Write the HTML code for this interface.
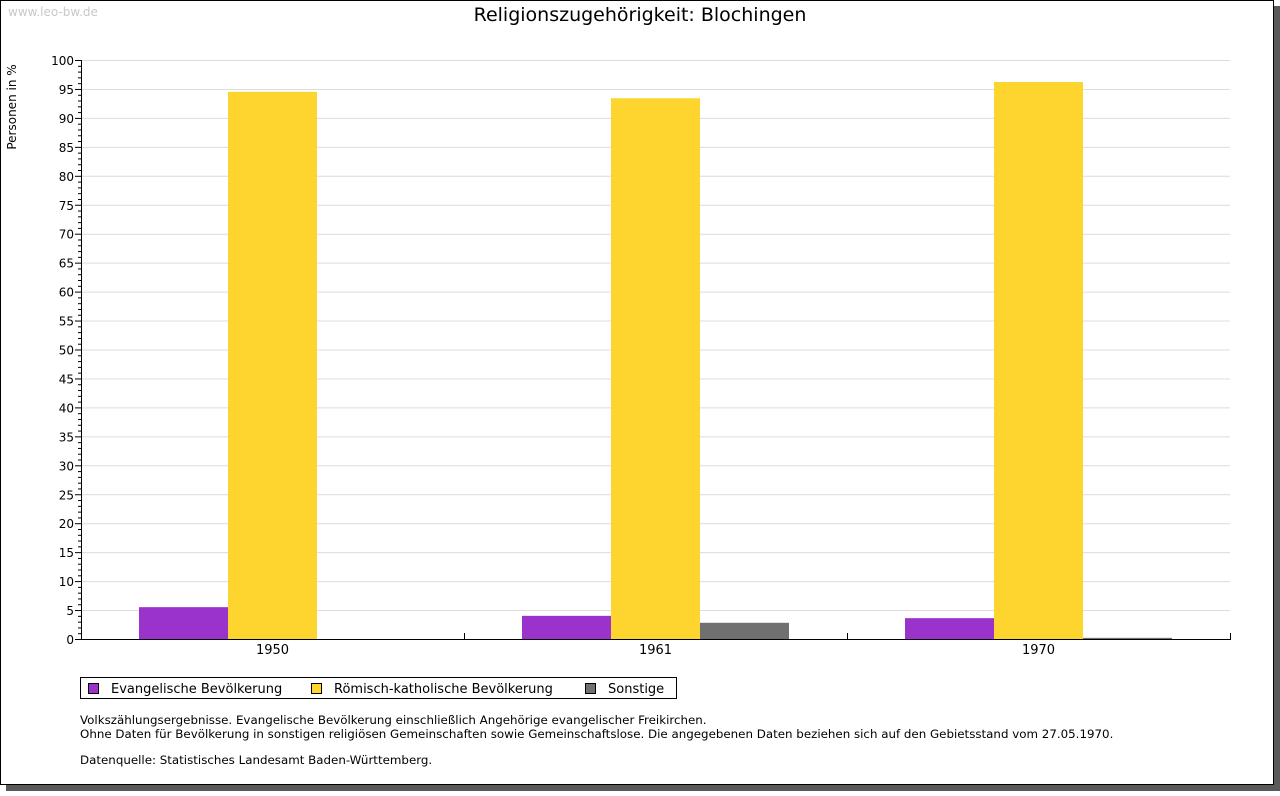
<!DOCTYPE html>
<html><head><meta charset="utf-8"><style>
body{margin:0;background:#fff;}
svg text{font-family:"DejaVu Sans","Liberation Sans",sans-serif;}
</style></head><body>
<svg id="c" width="1280" height="791" xmlns="http://www.w3.org/2000/svg">
<rect x="6" y="6" width="1274" height="785" fill="#5a5a5a"/>
<rect x="0.5" y="0.5" width="1273" height="784" fill="#fff" stroke="#000"/>
<text x="8" y="16" font-size="12" fill="#c8c8c8">www.leo-bw.de</text>
<text x="640" y="21" font-size="19" text-anchor="middle">Religionszugehörigkeit: Blochingen</text>
<text transform="translate(16,107) rotate(-90)" font-size="12" text-anchor="middle">Personen in %</text>
<g id="grid"></g><g id="bars"></g><g id="axes"></g>
<g>
<rect x="80.5" y="677.5" width="596" height="21" fill="#fff" stroke="#000"/>
<rect x="88.5" y="683.5" width="10" height="10" fill="#9933cc" stroke="#000"/>
<text x="111" y="693" font-size="13">Evangelische Bevölkerung</text>
<rect x="311.5" y="683.5" width="10" height="10" fill="#fdd52e" stroke="#000"/>
<text x="334" y="693" font-size="13">Römisch-katholische Bevölkerung</text>
<rect x="585.5" y="683.5" width="10" height="10" fill="#707070" stroke="#000"/>
<text x="608" y="693" font-size="13">Sonstige</text>
</g>
<g font-size="11.85">
<text x="80" y="724">Volkszählungsergebnisse. Evangelische Bevölkerung einschließlich Angehörige evangelischer Freikirchen.</text>
<text x="80" y="738">Ohne Daten für Bevölkerung in sonstigen religiösen Gemeinschaften sowie Gemeinschaftslose. Die angegebenen Daten beziehen sich auf den Gebietsstand vom 27.05.1970.</text>
<text x="80" y="764">Datenquelle: Statistisches Landesamt Baden-Württemberg.</text>
</g>
</svg>
<script>
const categories=["1950","1961","1970"];
const evangelisch=[5.5,4.0,3.6];
const katholisch=[94.5,93.4,96.2];
const sonstige=[0,2.8,0.2];
const yTicks=[0,5,10,15,20,25,30,35,40,45,50,55,60,65,70,75,80,85,90,95,100];
const NS="http://www.w3.org/2000/svg";
const L=81,R=1230,T=60,B=639;
const y=v=>B-(B-T)*v/100;
const gw=(R-L)/categories.length,bw=89;
function mk(t,a,p){const e=document.createElementNS(NS,t);for(const k in a)e.setAttribute(k,a[k]);p.appendChild(e);return e;}
const grid=document.getElementById('grid'),bars=document.getElementById('bars'),axes=document.getElementById('axes');
yTicks.forEach(v=>{
 if(v>0){const g=mk('line',{x1:L,x2:R,y1:y(v)+0.5,y2:y(v)+0.5,stroke:'#dcdcdc'},grid);
 
 }
 const t=mk('text',{x:L-7,y:y(v)+5,'font-size':12,'text-anchor':'end'},axes);t.textContent=v;
 
 
 mk('line',{x1:L-6,x2:L,y1:y(v)+0.5,y2:y(v)+0.5,stroke:'#000'},axes);
});
for(let v=1;v<100;v++){if(v%5)mk('line',{x1:L-3,x2:L,y1:y(v)+0.5,y2:y(v)+0.5,stroke:'#000'},axes);}
const series=[[evangelisch,'#9933cc','evangelisch'],[katholisch,'#fdd52e','katholisch'],[sonstige,'#707070','sonstige']];
categories.forEach((c,i)=>{
 const x0=L+gw*i+(gw-3*bw)/2;
 series.forEach((s,j)=>{const v=s[0][i];
  const r=mk('rect',{x:x0+j*bw,y:y(v),width:bw,height:B-y(v),fill:s[1]},bars);
  
  
 });
 const t=mk('text',{x:L+gw*(i+0.5),y:B+15,'font-size':13,'text-anchor':'middle'},axes);t.textContent=c;
 
 
 const tx=Math.round(L+gw*(i+1))+0.5;mk('line',{x1:tx,x2:tx,y1:B-6,y2:B,stroke:'#000'},axes);
});
const ya=mk('line',{x1:L+0.5,x2:L+0.5,y1:T,y2:B+1,stroke:'#000'},axes);


const xa=mk('line',{x1:L,x2:R+1,y1:B+0.5,y2:B+0.5,stroke:'#000'},axes);


</script>
</body></html>
